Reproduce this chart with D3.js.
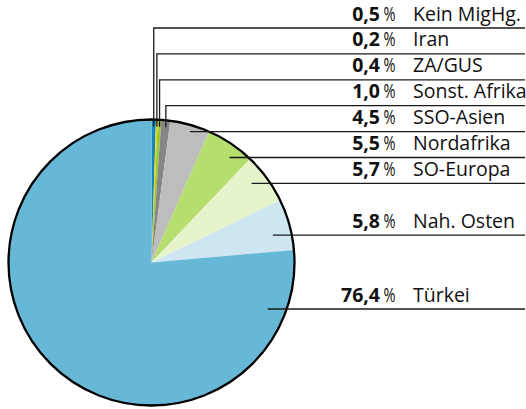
<!DOCTYPE html>
<html lang="de">
<head>
  <meta charset="UTF-8">
  <title>Pie Chart</title>
  <script src="https://cdn.jsdelivr.net/npm/d3@7"></script>
  <style>
    body { margin: 0; background: #fff; }
    svg { display: block; }
  </style>
</head>
<body>
<svg></svg>
<script>
  // data, clockwise from 12 o'clock
  const categories = ['Kein MigHg.', 'Iran', 'ZA/GUS', 'Sonst. Afrika', 'SSO-Asien',
                      'Nordafrika', 'SO-Europa', 'Nah. Osten', 'Türkei']
  const values = [0.5, 0.2, 0.4, 1.0, 4.5, 5.5, 5.7, 5.8, 76.4]
  const colors = ['#1587bf', '#f2d200', '#9cc83a', '#858585', '#bdbdbd',
                  '#b6de6e', '#e6f4cb', '#cde6f1', '#67b8d7']

  // layout
  const width = 526, height = 409
  const cx = 151.5, cy = 262.5, r = 143
  const labelRows = [0, 1, 2, 3, 4, 5, 6, 8, 10.85]   // row slot of each label
  const rowTop = 20.5, rowStep = 25.9
  const lineRight = 525

  const svg = d3.select('svg')
      .attr('width', width)
      .attr('height', height)
      .attr('viewBox', [0, 0, width, height])

  const locale = d3.formatLocale({decimal: ',', thousands: '.', grouping: [3], currency: ['', '']})
  const fmt = locale.format('.1f')

  const arcs = d3.pie().sort(null).value(d => d)(values)
  const arc = d3.arc().innerRadius(0).outerRadius(r)

  const g = svg.append('g').attr('transform', `translate(${cx},${cy})`)

  g.selectAll('path.slice')
      .data(arcs)
      .join('path')
      .attr('class', 'slice')
      .attr('d', arc)
      .attr('fill', (d, i) => colors[i])

  // outer ring
  g.append('circle')
      .attr('r', r)
      .attr('fill', 'none')
      .attr('stroke', '#000')
      .attr('stroke-width', 2.3)

  const baseline = i => rowTop + rowStep * labelRows[i]
  const lineY = i => baseline(i) + 7.5

  // leader lines
  const leader = (d, i) => {
    const y = lineY(i)
    if (i < 4) {
      // tiny slices: straight up from the rim, then right
      const a = (d.startAngle + d.endAngle) / 2
      const x = cx + r * Math.sin(a)
      const y0 = cy - (r - 7) * Math.cos(a)
      return d3.line()([[x, y0], [x, y], [lineRight, y]])
    }
    const x0 = cx + Math.sqrt(r * r - (y - cy) * (y - cy)) - 19
    return d3.line()([[x0, y], [lineRight, y]])
  }

  svg.append('g')
      .selectAll('path')
      .data(arcs)
      .join('path')
      .attr('d', leader)
      .attr('fill', 'none')
      .attr('stroke', '#1a1a1a')
      .attr('stroke-width', 1.3)

  // labels
  const labels = svg.append('g')
      .attr('font-family', '"Open Sans", sans-serif')
      .attr('font-size', 19.5)
      .attr('fill', '#111')
      .selectAll('g')
      .data(values)
      .join('g')
      .attr('transform', (d, i) => `translate(0,${baseline(i)})`)

  labels.append('text')
      .attr('x', 380)
      .attr('text-anchor', 'end')
      .attr('font-weight', 'bold')
      .text(d => fmt(d))

  labels.append('text')
      .attr('x', 383.5)
      .attr('textLength', 12)
      .attr('lengthAdjust', 'spacingAndGlyphs')
      .text('%')

  labels.append('text')
      .attr('x', 413)
      .text((d, i) => categories[i])
</script>
</body>
</html>
